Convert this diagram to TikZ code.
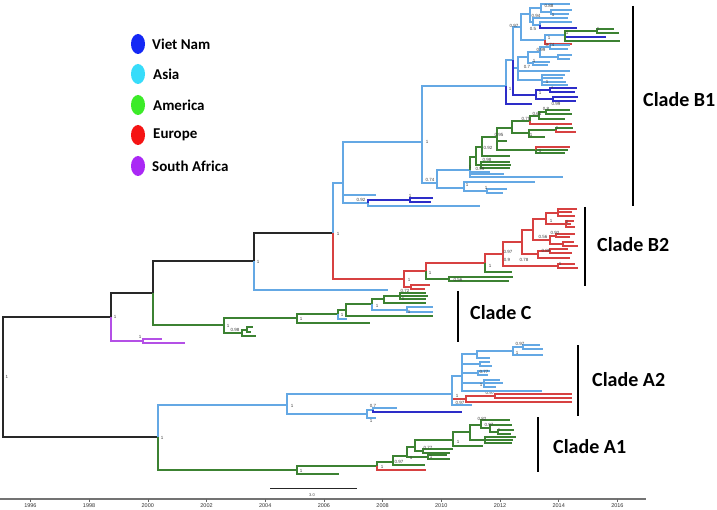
\documentclass[tikz,border=0pt]{standalone}
\usepackage{fontspec}
\setmainfont{Liberation Sans}
\newfontfamily\carl{Carlito}
\definecolor{asC}{RGB}{100,168,228}
\definecolor{vnC}{RGB}{45,45,200}
\definecolor{amC}{RGB}{60,130,50}
\definecolor{euC}{RGB}{215,65,65}
\definecolor{saC}{RGB}{180,80,230}
\definecolor{bkC}{RGB}{40,40,40}
\definecolor{vnL}{RGB}{20,40,245}
\definecolor{asL}{RGB}{55,220,250}
\definecolor{amL}{RGB}{60,235,40}
\definecolor{euL}{RGB}{245,20,20}
\definecolor{saL}{RGB}{170,40,245}
\newcommand\mknode[2]{\coordinate (#1) at (#2);}
\newcommand\brn[3]{\draw[#1] (#2) |- (#3);}
\newcommand\tipb[4]{\draw[#1] (#2) |- (#3,#4);}
\newcommand\slbl[3]{\node[sup] at (#1,#2) {#3};}
\begin{document}
\begin{tikzpicture}[x=1pt,y=-1pt,
  brw/.style={line width=1.1pt},
  cBk/.style={brw,draw=bkC}, cAs/.style={brw,draw=asC}, cVn/.style={brw,draw=vnC},
  cAm/.style={brw,draw=amC}, cEu/.style={brw,draw=euC}, cSa/.style={brw,draw=saC},
  sup/.style={font=\fontsize{4.5}{5}\selectfont, text=black!75, inner sep=0pt},
  cladelbl/.style={font=\carl\bfseries\fontsize{20}{22}\selectfont, anchor=west, inner sep=0pt},
  leglbl/.style={font=\carl\bfseries\fontsize{15}{16}\selectfont, anchor=west, inner sep=0pt},
  cladebar/.style={line width=2pt, draw=black},
  yrlbl/.style={font=\fontsize{5.5}{6}\selectfont, text=black!80, inner sep=0pt}]
\useasboundingbox (0,0) rectangle (717,510);
\fill[white] (0,0) rectangle (717,510);

% ---------- legend ----------
\fill[vnL] (138,44) ellipse [x radius=7pt, y radius=10pt];
\fill[asL] (138,74) ellipse [x radius=7pt, y radius=10pt];
\fill[amL] (138,105) ellipse [x radius=7pt, y radius=10pt];
\fill[euL] (138,135) ellipse [x radius=7pt, y radius=10pt];
\fill[saL] (138,166) ellipse [x radius=7pt, y radius=10pt];
\node[leglbl] (lg1) at (152,44) {Viet Nam};
\node[leglbl] (lg2) at (153,74) {Asia};
\node[leglbl] (lg3) at (153,105) {America};
\node[leglbl] (lg4) at (153,135) {Europe};
\node[leglbl] (lg5) at (152,166) {South Africa};

% ---------- backbone ----------
\mknode{r0}{3,377}
\mknode{n1}{111,317}
\mknode{nSA}{143,341}
\mknode{n2}{153,293}
\mknode{nC}{224,325}
\mknode{n3}{254,261}
\mknode{nE}{333,233}
\mknode{nF}{158,437}
\brn{cBk}{r0}{n1} \brn{cBk}{r0}{nF}
\brn{cSa}{n1}{nSA} \brn{cBk}{n1}{n2}
\brn{cAm}{n2}{nC} \brn{cBk}{n2}{n3}
\tipb{cAs}{n3}{388}{290}
\brn{cBk}{n3}{nE}
\tipb{cSa}{nSA}{162}{339} \tipb{cSa}{nSA}{185}{343}
\slbl{7}{377}{1} \slbl{115}{317}{1} \slbl{140}{337}{1}
\slbl{258}{262}{1} \slbl{228}{326}{1} \slbl{162}{438}{1}

% ---------- clade C ----------
\mknode{nC1}{297,318} \mknode{nC2}{242,333} \mknode{nC2a}{247,330}
\brn{cAm}{nC}{nC1} \brn{cAm}{nC}{nC2}
\brn{cAm}{nC2}{nC2a} \tipb{cAm}{nC2}{256}{336}
\tipb{cAm}{nC2a}{253}{327} \tipb{cAm}{nC2a}{251}{332}
\slbl{235}{330}{0.98}
\mknode{nC3}{338,314} \mknode{nC4}{346,310} \mknode{nC5}{372,304}
\mknode{nC6}{384,299} \mknode{nC7}{407,310} \mknode{nC8}{400,296}
\brn{cAm}{nC1}{nC3} \tipb{cAm}{nC1}{370}{323}
\brn{cAm}{nC3}{nC4} \tipb{cAs}{nC3}{347}{319}
\brn{cAm}{nC4}{nC5} \tipb{cAm}{nC4}{433}{316}
\brn{cAm}{nC5}{nC6} \brn{cAs}{nC5}{nC7}
\brn{cAm}{nC6}{nC8} \tipb{cAm}{nC6}{426}{303}
\tipb{cAm}{nC8}{426}{293} \tipb{cAm}{nC8}{428}{296} \tipb{cAm}{nC8}{426}{299}
\tipb{cAs}{nC7}{433}{307} \tipb{cAs}{nC7}{433}{312}
\slbl{301}{319}{1} \slbl{342}{315}{1} \slbl{377}{306}{1} \slbl{403}{299}{1} \slbl{409}{312}{1}

% ---------- clade B2 ----------
\mknode{nG}{404,279} \mknode{nH}{426,271} \mknode{nG2}{411,287} \mknode{nH2}{449,279}
\mknode{nI}{485,263} \mknode{nJ}{503,254} \mknode{nK}{522,242} \mknode{nJ2}{558,266}
\mknode{nM}{533,230} \mknode{nL}{538,254} \mknode{nL1}{550,251}
\mknode{nM1}{546,219} \mknode{nM2}{550,240} \mknode{nM3}{558,213} \mknode{nM4}{566,224}
\mknode{nM6}{556,236} \mknode{nM7}{563,244}
\brn{cEu}{nE}{nG}
\brn{cEu}{nG}{nH} \brn{cEu}{nG}{nG2}
\tipb{cEu}{nG2}{430}{285} \tipb{cEu}{nG2}{425}{289}
\brn{cEu}{nH}{nI} \brn{cAm}{nH}{nH2}
\tipb{cAm}{nH2}{513}{277} \tipb{cAm}{nH2}{509}{281}
\brn{cEu}{nI}{nJ} \tipb{cAm}{nI}{512}{272}
\brn{cEu}{nJ}{nK} \brn{cEu}{nJ}{nJ2}
\tipb{cEu}{nJ2}{575}{264} \tipb{cEu}{nJ2}{578}{268}
\brn{cEu}{nK}{nM} \brn{cEu}{nK}{nL}
\brn{cEu}{nL}{nL1} \tipb{cEu}{nL}{570}{258}
\tipb{cEu}{nL1}{568}{249} \tipb{cEu}{nL1}{572}{253}
\brn{cEu}{nM}{nM1} \brn{cEu}{nM}{nM2}
\brn{cEu}{nM1}{nM3} \brn{cEu}{nM1}{nM4}
\tipb{cEu}{nM3}{577}{209} \tipb{cEu}{nM3}{572}{212} \tipb{cEu}{nM3}{575}{216}
\tipb{cEu}{nM4}{574}{221} \tipb{cEu}{nM4}{571}{224} \tipb{cEu}{nM4}{575}{227}
\brn{cEu}{nM2}{nM6} \brn{cEu}{nM2}{nM7}
\tipb{cEu}{nM6}{575}{234} \tipb{cEu}{nM6}{570}{237}
\tipb{cEu}{nM7}{574}{242} \tipb{cEu}{nM7}{578}{246}
\slbl{409}{280}{1} \slbl{405}{291}{0.72} \slbl{430}{273}{1} \slbl{458}{280}{0.56}
\slbl{490}{266}{1} \slbl{508}{252}{0.97} \slbl{507}{260}{0.9} \slbl{524}{260}{0.78}
\slbl{546}{251}{0.89} \slbl{543}{237}{0.56} \slbl{555}{233}{0.92} \slbl{551}{221}{1}
\slbl{567}{222}{1} \slbl{560}{264}{1}

% ---------- clade B1 ----------
\mknode{nN}{343,183} \mknode{nP1}{422,142} \mknode{nQ}{368,203} \mknode{nR}{410,200}
\brn{cAs}{nE}{nN}
\brn{cAs}{nN}{nP1} \tipb{cAs}{nN}{376}{195} \brn{cAs}{nN}{nQ}
\brn{cVn}{nQ}{nR} \tipb{cAs}{nQ}{480}{206}
\tipb{cVn}{nR}{433}{198} \tipb{cVn}{nR}{431}{202}
\slbl{338}{234}{1} \slbl{361}{200}{0.92} \slbl{410}{196}{1}
\mknode{nT}{506,86} \mknode{nS}{437,183}
\brn{cAs}{nP1}{nT} \brn{cAs}{nP1}{nS}
\slbl{427}{142}{1} \slbl{430}{180}{0.74}
\mknode{nS1}{470,170} \mknode{nS2}{464,188} \mknode{nS3}{487,191}
\brn{cAs}{nS}{nS1} \brn{cAs}{nS}{nS2}
\tipb{cAs}{nS2}{535}{182} \brn{cAs}{nS2}{nS3}
\tipb{cAs}{nS3}{507}{189} \tipb{cAs}{nS3}{503}{193}
\slbl{467}{185}{1} \slbl{486}{188}{1}
\mknode{nS4}{476,157}
\brn{cAm}{nS1}{nS4} \tipb{cAs}{nS1}{490}{172} \tipb{cAs}{nS1}{504}{174} \tipb{cAs}{nS1}{563}{177}
\slbl{470}{167}{1}
\mknode{nS5}{481,165} \mknode{nS6}{482,147}
\brn{cAm}{nS4}{nS5} \brn{cAm}{nS4}{nS6}
\tipb{cAm}{nS5}{510}{162} \tipb{cAm}{nS5}{511}{165} \tipb{cAm}{nS5}{510}{168}
\slbl{487}{160}{0.98} \slbl{480}{169}{0.99}
\mknode{nS7}{497,137} \mknode{nS9}{536,150}
\brn{cAm}{nS6}{nS7} \tipb{cAm}{nS6}{510}{156}
\slbl{488}{148}{0.92}
\mknode{nS8}{512,128}
\brn{cAm}{nS7}{nS8} \tipb{cAm}{nS7}{507}{141} \brn{cAm}{nS7}{nS9}
\slbl{499}{135}{0.95}
\tipb{cEu}{nS9}{570}{147} \tipb{cAm}{nS9}{568}{150} \tipb{cAm}{nS9}{565}{153}
\slbl{540}{151}{1}
\mknode{nS10}{530,121} \mknode{nS11}{529,133}
\brn{cAm}{nS8}{nS10} \brn{cAm}{nS8}{nS11}
\mknode{nS12}{539,116} \mknode{nS13}{546,112} \mknode{nS14}{556,130}
\brn{cAm}{nS10}{nS12} \tipb{cEu}{nS10}{572}{124}
\brn{cAm}{nS12}{nS13} \tipb{cAm}{nS12}{565}{119}
\tipb{cAm}{nS13}{570}{110} \tipb{cAm}{nS13}{572}{114}
\tipb{cAm}{nS11}{545}{137} \brn{cAm}{nS11}{nS14}
\tipb{cAm}{nS14}{573}{128} \tipb{cEu}{nS14}{576}{132}
\slbl{526}{119}{0.75} \slbl{537}{114}{0.64} \slbl{546}{109}{0.8} \slbl{531}{135}{1} \slbl{557}{128}{1}
% upper B1
\mknode{nT1}{513,60}
\brn{cAs}{nT}{nT1} \tipb{cVn}{nT}{532}{104}
\slbl{510}{89}{1}
\mknode{nU}{521,27} \mknode{nV}{518,68} \mknode{nW}{536,95}
\brn{cAs}{nT1}{nU} \brn{cAs}{nT1}{nV} \brn{cVn}{nT1}{nW}
\mknode{nW1}{550,90} \mknode{nW2}{553,99}
\brn{cVn}{nW}{nW1} \brn{cVn}{nW}{nW2}
\tipb{cVn}{nW1}{577}{88} \tipb{cVn}{nW1}{575}{92}
\tipb{cVn}{nW2}{578}{97} \tipb{cVn}{nW2}{576}{101}
\slbl{540}{93}{1} \slbl{552}{87}{1} \slbl{556}{104}{0.99}
\mknode{nU1}{530,14} \mknode{nU2}{545,40}
\brn{cAs}{nU}{nU1} \brn{cAs}{nU}{nU2}
\slbl{514}{26}{0.97}
\mknode{nU3}{541,8} \mknode{nU4}{533,22} \mknode{nU5}{551,12} \mknode{nU6}{540,25}
\brn{cAs}{nU1}{nU3} \brn{cAs}{nU1}{nU4}
\slbl{536}{16}{0.94}
\tipb{cAs}{nU3}{570}{4} \brn{cAs}{nU3}{nU5}
\slbl{549}{6}{0.88}
\tipb{cAs}{nU5}{572}{10} \tipb{cAs}{nU5}{569}{14}
\slbl{553}{15}{1}
\tipb{cAs}{nU4}{568}{18} \brn{cAs}{nU4}{nU6}
\tipb{cAs}{nU6}{572}{22} \tipb{cVn}{nU6}{577}{28}
\slbl{533}{29}{0.5}
\mknode{nU7}{565,35} \mknode{nU8}{597,31}
\brn{cAs}{nU2}{nU7} \tipb{cEu}{nU2}{572}{44}
\slbl{549}{38}{1}
\brn{cAm}{nU7}{nU8} \tipb{cVn}{nU7}{606}{37} \tipb{cAm}{nU7}{620}{41}
\slbl{567}{33}{1}
\tipb{cAm}{nU8}{614}{29} \tipb{cAm}{nU8}{619}{33}
\slbl{598}{29}{1}
\mknode{nV1}{528,57} \mknode{nV2}{542,80} \mknode{nV3}{540,52} \mknode{nV4}{533,63}
\mknode{nV5}{550,47} \mknode{nV6}{558,57}
\brn{cAs}{nV}{nV1} \tipb{cAs}{nV}{570}{71} \brn{cAs}{nV}{nV2}
\brn{cAs}{nV1}{nV3} \brn{cAs}{nV1}{nV4}
\brn{cAs}{nV3}{nV5} \brn{cAs}{nV3}{nV6}
\tipb{cAs}{nV5}{570}{45} \tipb{cAs}{nV5}{568}{49}
\tipb{cAs}{nV6}{572}{55} \tipb{cAs}{nV6}{570}{59}
\tipb{cAs}{nV4}{550}{62} \tipb{cAs}{nV4}{548}{65}
\tipb{cAs}{nV2}{565}{75} \tipb{cAs}{nV2}{563}{78} \tipb{cAs}{nV2}{566}{82} \tipb{cAs}{nV2}{568}{85}
\slbl{550}{45}{0.74} \slbl{541}{50}{0.99} \slbl{534}{61}{1} \slbl{527}{67}{0.7} \slbl{547}{82}{1}

% ---------- clade A2 ----------
\mknode{nA2}{287,405} \mknode{nA1}{297,470}
\brn{cAs}{nF}{nA2} \brn{cAm}{nF}{nA1}
\slbl{292}{406}{1}
\mknode{nA2a}{452,394} \mknode{nA2b}{367,414} \mknode{nA2c}{373,410}
\brn{cAs}{nA2}{nA2a} \brn{cAs}{nA2}{nA2b}
\brn{cAs}{nA2b}{nA2c} \tipb{cAs}{nA2b}{376}{418}
\tipb{cAs}{nA2c}{397}{408} \tipb{cVn}{nA2c}{462}{412}
\slbl{373}{406}{0.7} \slbl{371}{421}{1}
\mknode{nA2d}{462,376} \mknode{nA2r}{466,399} \mknode{nA2i}{495,396}
\brn{cAs}{nA2a}{nA2d} \brn{cEu}{nA2a}{nA2r} \tipb{cAs}{nA2a}{472}{405}
\slbl{457}{396}{1} \slbl{460}{403}{0.97}
\brn{cEu}{nA2r}{nA2i} \tipb{cEu}{nA2r}{572}{402}
\tipb{cEu}{nA2i}{572}{394} \tipb{cEu}{nA2i}{572}{398}
\slbl{490}{393}{0.97}
\mknode{nA2e}{477,354} \mknode{nA2f}{480,364} \mknode{nA2g}{478,373} \mknode{nA2h}{484,383}
\mknode{nA2e1}{513,351} \mknode{nA2e2}{523,347}
\brn{cAs}{nA2d}{nA2e} \brn{cAs}{nA2d}{nA2f} \brn{cAs}{nA2d}{nA2g} \brn{cAs}{nA2d}{nA2h}
\tipb{cAs}{nA2d}{542}{391}
\brn{cAs}{nA2e}{nA2e1} \tipb{cAs}{nA2e}{490}{358}
\brn{cAs}{nA2e1}{nA2e2} \tipb{cAs}{nA2e1}{543}{355}
\tipb{cAs}{nA2e2}{540}{345} \tipb{cAs}{nA2e2}{543}{349}
\tipb{cAs}{nA2f}{490}{362} \tipb{cAs}{nA2f}{492}{366}
\tipb{cAs}{nA2g}{490}{371} \tipb{cAs}{nA2g}{488}{375}
\tipb{cAs}{nA2h}{500}{380} \tipb{cAs}{nA2h}{503}{383} \tipb{cAs}{nA2h}{496}{387}
\slbl{520}{344}{0.97} \slbl{517}{353}{1} \slbl{484}{372}{0.77} \slbl{481}{385}{1}

% ---------- clade A1 ----------
\mknode{nA1b}{377,466} \mknode{nA1c}{393,462} \mknode{nA1d}{407,456}
\mknode{nA1e}{415,447} \mknode{nA1k}{428,457} \mknode{nA1f}{453,440} \mknode{nA1g}{423,451}
\mknode{nA1h}{470,432} \mknode{nA1i}{481,425} \mknode{nA1j}{485,440} \mknode{nA1m}{490,428}
\mknode{nA1p}{498,432}
\brn{cAm}{nA1}{nA1b} \tipb{cAm}{nA1}{339}{474}
\slbl{301}{471}{1}
\brn{cAm}{nA1b}{nA1c} \tipb{cEu}{nA1b}{426}{470}
\slbl{382}{467}{1}
\brn{cAm}{nA1c}{nA1d} \tipb{cAm}{nA1c}{425}{465}
\slbl{399}{462}{0.97}
\brn{cAm}{nA1d}{nA1e} \brn{cAm}{nA1d}{nA1k}
\slbl{411}{458}{1}
\tipb{cAm}{nA1k}{447}{455} \tipb{cAm}{nA1k}{450}{459}
\slbl{431}{457}{1}
\brn{cAm}{nA1e}{nA1f} \brn{cAm}{nA1e}{nA1g}
\tipb{cAm}{nA1g}{453}{449} \tipb{cAm}{nA1g}{450}{453}
\slbl{428}{448}{0.77}
\brn{cAm}{nA1f}{nA1h} \tipb{cAm}{nA1f}{483}{446}
\slbl{458}{442}{1}
\brn{cAm}{nA1h}{nA1i} \brn{cAm}{nA1h}{nA1j}
\tipb{cAm}{nA1i}{510}{420} \brn{cAm}{nA1i}{nA1m}
\tipb{cAm}{nA1m}{512}{425} \brn{cAm}{nA1m}{nA1p}
\tipb{cAm}{nA1p}{514}{430} \tipb{cAm}{nA1p}{511}{434}
\tipb{cAm}{nA1j}{516}{437} \tipb{cAm}{nA1j}{513}{440} \tipb{cAm}{nA1j}{512}{443}
\slbl{482}{419}{0.82} \slbl{489}{425}{0.97} \slbl{499}{430}{1}

% ---------- clade bars and labels ----------
\draw[cladebar] (633,6) -- (633,206);
\draw[cladebar] (585,207) -- (585,286);
\draw[cladebar] (458,291) -- (458,342);
\draw[cladebar] (578,345) -- (578,416);
\draw[cladebar] (538,417) -- (538,472);
\node[cladelbl] (cB1) at (643,100) {Clade B1};
\node[cladelbl] (cB2) at (597,245) {Clade B2};
\node[cladelbl] (cCC) at (470,313) {Clade C};
\node[cladelbl] (cA2) at (592,380) {Clade A2};
\node[cladelbl] (cA1) at (553,447) {Clade A1};

% ---------- scale bar and time axis ----------
\draw[line width=1pt, black!85] (270,488) -- (357,488);
\node[sup, font=\fontsize{4}{4}\selectfont] (sc) at (312,495) {3.0};
\draw[line width=1.2pt, black!55] (0,499) -- (646,499);
\foreach \i in {0,...,10} {
  \pgfmathsetmacro\xx{30.4+58.7*\i}
  \pgfmathtruncatemacro\yy{1996+2*\i}
  \draw[line width=0.6pt, black!60] (\xx,499) -- (\xx,502);
  \node[yrlbl] at (\xx,506) {\yy};
}
\end{tikzpicture}
\end{document}
